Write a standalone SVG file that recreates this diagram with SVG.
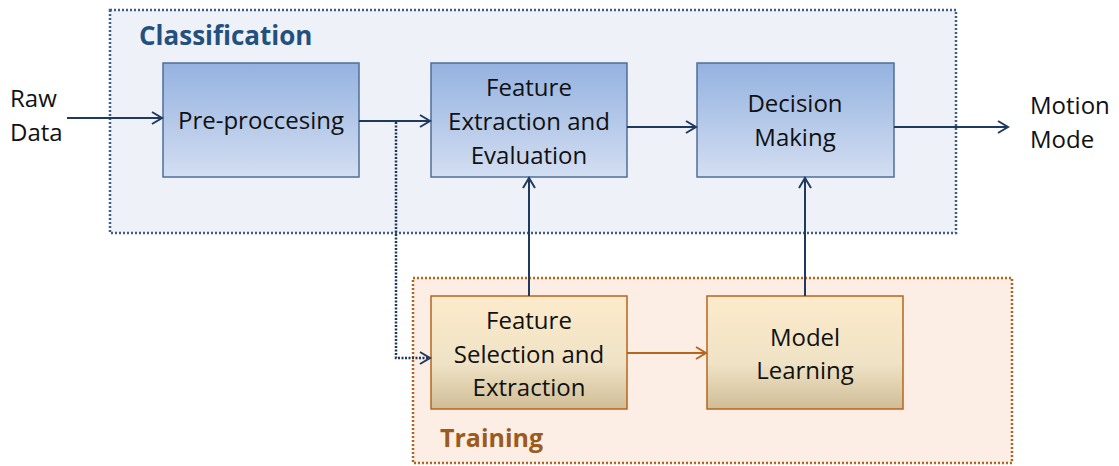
<svg xmlns="http://www.w3.org/2000/svg" width="1119" height="466" viewBox="0 0 1119 466">
<defs>
<linearGradient id="gb" x1="0" y1="0" x2="0" y2="1"><stop offset="0" stop-color="#94B2E0"/><stop offset="1" stop-color="#D3DEF1"/></linearGradient>
<linearGradient id="go" x1="0" y1="0" x2="0" y2="1"><stop offset="0" stop-color="#FDEBCB"/><stop offset="0.6" stop-color="#EFE2C5"/><stop offset="1" stop-color="#D0BD96"/></linearGradient>
<marker id="ab" markerWidth="14" markerHeight="14" refX="11" refY="7" orient="auto" markerUnits="userSpaceOnUse"><path d="M1,1 L11,7 L1,13" fill="none" stroke="#1F3A5F" stroke-width="2"/></marker>
<marker id="ao" markerWidth="14" markerHeight="14" refX="11" refY="7" orient="auto" markerUnits="userSpaceOnUse"><path d="M1,1 L11,7 L1,13" fill="none" stroke="#B5651D" stroke-width="2"/></marker>
<style>
.t{font-family:"Open Sans","Liberation Sans",sans-serif;font-size:24px;fill:#111;text-anchor:middle}
.tl{font-family:"Open Sans","Liberation Sans",sans-serif;font-size:24px;fill:#111}
.bb{fill:url(#gb);stroke:#4F6E9A;stroke-width:1.5}
.ob{fill:url(#go);stroke:#B5651D;stroke-width:1.5}
.cn{fill:none;stroke:#1F3A5F;stroke-width:2}
</style>
</defs>
<g id="classification">
<rect x="110" y="10" width="846" height="223" fill="#EEF2F8" stroke="#3D5D8A" stroke-width="2.5" stroke-dasharray="2,2"/>
<text x="139" y="45" font-family="'Open Sans','Liberation Sans',sans-serif" font-size="26" font-weight="bold" fill="#24507F">Classification</text>
</g>
<g id="training">
<rect x="413" y="278" width="599" height="185" fill="#FCEEE4" stroke="#B0651E" stroke-width="2.5" stroke-dasharray="2,2"/>
<text x="440" y="447" font-family="'Open Sans','Liberation Sans',sans-serif" font-size="25" font-weight="bold" fill="#9C5B1E">Training</text>
</g>
<g id="preprocessing">
<rect class="bb" x="163" y="63" width="196" height="114"/>
<text class="t" x="261" y="129">Pre-proccesing</text>
</g>
<g id="feature-extraction">
<rect class="bb" x="431" y="63" width="196" height="114"/>
<text class="t" x="529" y="96">Feature</text>
<text class="t" x="529" y="130">Extraction and</text>
<text class="t" x="529" y="164">Evaluation</text>
</g>
<g id="decision-making">
<rect class="bb" x="697" y="63" width="197" height="114"/>
<text class="t" x="795" y="112">Decision</text>
<text class="t" x="795" y="146">Making</text>
</g>
<g id="feature-selection">
<rect class="ob" x="431" y="296" width="196" height="113"/>
<text class="t" x="529" y="329">Feature</text>
<text class="t" x="529" y="363">Selection and</text>
<text class="t" x="529" y="396">Extraction</text>
</g>
<g id="model-learning">
<rect class="ob" x="707" y="296" width="196" height="113"/>
<text class="t" x="805" y="346">Model</text>
<text class="t" x="805" y="379">Learning</text>
</g>
<g id="raw-data">
<text class="tl" x="10" y="107">Raw</text>
<text class="tl" x="10" y="141">Data</text>
</g>
<g id="motion-mode">
<text class="tl" x="1030" y="114">Motion</text>
<text class="tl" x="1030" y="148">Mode</text>
</g>
<g id="connectors">
<line class="cn" x1="67" y1="118" x2="162" y2="118" marker-end="url(#ab)"/>
<line class="cn" x1="359" y1="121" x2="430" y2="121" marker-end="url(#ab)"/>
<line class="cn" x1="627" y1="127" x2="696" y2="127" marker-end="url(#ab)"/>
<line class="cn" x1="894" y1="127" x2="1008" y2="127" marker-end="url(#ab)"/>
<line class="cn" x1="529" y1="296" x2="529" y2="178" marker-end="url(#ab)"/>
<line class="cn" x1="805" y1="296" x2="805" y2="178" marker-end="url(#ab)"/>
<line x1="627" y1="353" x2="706" y2="353" fill="none" stroke="#B5651D" stroke-width="2" marker-end="url(#ao)"/>
<polyline points="396,122 396,358 430,358" fill="none" stroke="#1F3A5F" stroke-width="2.5" stroke-dasharray="2,1.5" marker-end="url(#ab)"/>
</g>
</svg>
